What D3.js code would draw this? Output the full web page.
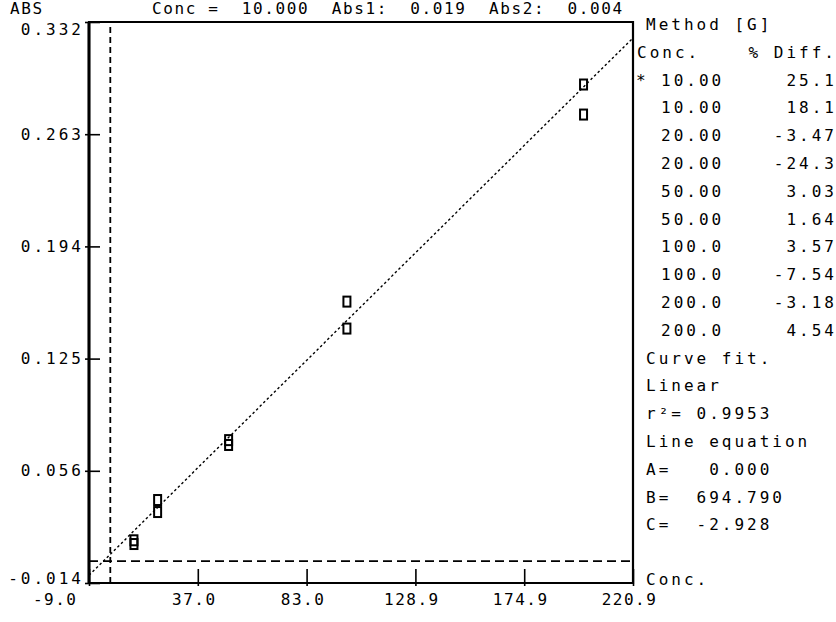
<!DOCTYPE html>
<html>
<head>
<meta charset="utf-8">
<script src="https://cdn.jsdelivr.net/npm/d3@7/dist/d3.min.js"></script>
<style>
  html, body { margin: 0; padding: 0; background: #fff; }
  svg { display: block; }
  text { font-family: "DejaVu Sans Mono", "Liberation Mono", monospace; font-size: 16px; letter-spacing: 3px; fill: #000; white-space: pre; }
  text.hdr { letter-spacing: 1.6px; }
  .xax text { letter-spacing: 1.5px; }
</style>
</head>
<body>
<svg id="chart" width="836" height="622"></svg>
<script>
// ---- data ----
const concValues = [10, 10, 20, 20, 50, 50, 100, 100, 200, 200];
const absValues  = [0.0128, 0.0105, 0.0376, 0.0302, 0.0745, 0.0715, 0.1598, 0.1432, 0.2935, 0.2750];

const xTickValues = [-9.0, 36.98, 82.96, 128.94, 174.92, 220.9];
const xTickLabels = ["-9.0", "37.0", "83.0", "128.9", "174.9", "220.9"];
const yTickValues = [0.332, 0.2629, 0.1938, 0.1247, 0.0556, -0.0135];
const yTickLabels = ["0.332", "0.263", "0.194", "0.125", "0.056", "-0.014"];

const tableConc = ["10.00", "10.00", "20.00", "20.00", "50.00", "50.00", "100.0", "100.0", "200.0", "200.0"];
const tableDiff = ["25.1", "18.1", "-3.47", "-24.3", "3.03", "1.64", "3.57", "-7.54", "-3.18", "4.54"];
const tableMark = ["*", "", "", "", "", "", "", "", "", ""];

const headerText = "Conc =  10.000  Abs1:  0.019  Abs2:  0.004";
const fitLines = ["Curve fit.", "Linear", "r\u00b2= 0.9953", "Line equation", "A=   0.000", "B=  694.790", "C=  -2.928"];
const fitA = 0.000, fitB = 694.790, fitC = -2.928;

// ---- layout ----
const svg = d3.select("#chart");
const L = 89, R = 633, T = 22, B = 583;
const x = d3.scaleLinear().domain([xTickValues[0], xTickValues[xTickValues.length - 1]]).range([L, R]);
const y = d3.scaleLinear().domain([yTickValues[yTickValues.length - 1], yTickValues[0]]).range([B, T]);

// header
svg.append("text").attr("class", "hdr").attr("x", 10).attr("y", 14).text("ABS");
svg.append("text").attr("class", "hdr").attr("x", 152).attr("y", 14).text(headerText);

// dashed zero axes
svg.append("line").attr("x1", x(0)).attr("x2", x(0)).attr("y1", T + 5).attr("y2", B)
  .attr("stroke", "#000").attr("stroke-width", 1.8).attr("stroke-dasharray", "6,4");
svg.append("line").attr("x1", L).attr("x2", R).attr("y1", y(0)).attr("y2", y(0))
  .attr("stroke", "#000").attr("stroke-width", 1.8).attr("stroke-dasharray", "9,5");

// fit line from the printed equation (Conc = B*Abs + C)
const fitPts = x.domain().map(c => [c, (c - fitC) / fitB + fitA]);
svg.append("path").datum(fitPts)
  .attr("d", d3.line().x(d => x(d[0])).y(d => y(d[1])))
  .attr("fill", "none").attr("stroke", "#000").attr("stroke-width", 1.4).attr("stroke-dasharray", "2.5,2.5");

// frame
svg.append("path")
  .attr("d", `M${L},${T}H${R}V${B}H${L}Z`)
  .attr("fill", "none").attr("stroke", "#000").attr("stroke-width", 2.2);
svg.append("line").attr("x1", L).attr("x2", L).attr("y1", T).attr("y2", B)
  .attr("stroke", "#000").attr("stroke-width", 3);

// y axis ticks + labels
const yAxis = d3.axisLeft(y).tickValues(yTickValues).tickFormat((d, i) => yTickLabels[i])
  .tickSizeInner(-11).tickSizeOuter(0).tickPadding(8);
const gy = svg.append("g").attr("transform", `translate(${L},0)`).call(yAxis);
gy.select(".domain").remove();
gy.selectAll(".tick line").attr("stroke", "#000").attr("stroke-width", 1.6).attr("x1", -4);
const nY = yTickValues.length;
gy.selectAll(".tick text").attr("font-family", null).attr("font-size", null).attr("fill", "#000").attr("x", -5)
  .attr("dy", (d, i) => i === 0 ? "0.75em" : (i === nY - 1 ? "0em" : "0.32em"));

// x axis ticks + labels
const xAxis = d3.axisBottom(x).tickValues(xTickValues).tickFormat((d, i) => xTickLabels[i])
  .tickSizeInner(-14).tickSizeOuter(0).tickPadding(11);
const gx = svg.append("g").attr("class", "xax").attr("transform", `translate(0,${B})`).call(xAxis);
gx.select(".domain").remove();
gx.selectAll(".tick line").attr("stroke", "#000").attr("stroke-width", 1.6).attr("y1", 3);
gx.selectAll(".tick text").attr("font-family", null).attr("font-size", null).attr("fill", "#000")
  .attr("text-anchor", (d, i) => i === 0 ? "end" : "middle")
  .attr("dx", (d, i) => i === 0 ? -12 : -4);

// points
svg.selectAll("rect.pt").data(concValues).join("rect").attr("class", "pt")
  .attr("x", d => x(d) - 3.5).attr("y", (d, i) => y(absValues[i]) - 5)
  .attr("width", 7).attr("height", 10)
  .attr("fill", "none").attr("stroke", "#000").attr("stroke-width", 2);

// right panel
const rowY = i => 30 + i * 27.8;
svg.append("text").attr("x", 646).attr("y", rowY(0)).text("Method [G]");
svg.append("text").attr("x", 637).attr("y", rowY(1)).text("Conc.");
svg.append("text").attr("x", 837).attr("y", rowY(1)).attr("text-anchor", "end").text("% Diff.");
tableConc.forEach((c, i) => {
  if (tableMark[i]) svg.append("text").attr("x", 636).attr("y", rowY(i + 2)).text(tableMark[i]);
  svg.append("text").attr("x", 661).attr("y", rowY(i + 2)).text(c);
  svg.append("text").attr("x", 837).attr("y", rowY(i + 2)).attr("text-anchor", "end").text(tableDiff[i]);
});
fitLines.forEach((t, i) => {
  svg.append("text").attr("x", 646).attr("y", rowY(i + 12)).text(t);
});
svg.append("text").attr("x", 646).attr("y", B + 2).text("Conc.");
</script>
</body>
</html>
